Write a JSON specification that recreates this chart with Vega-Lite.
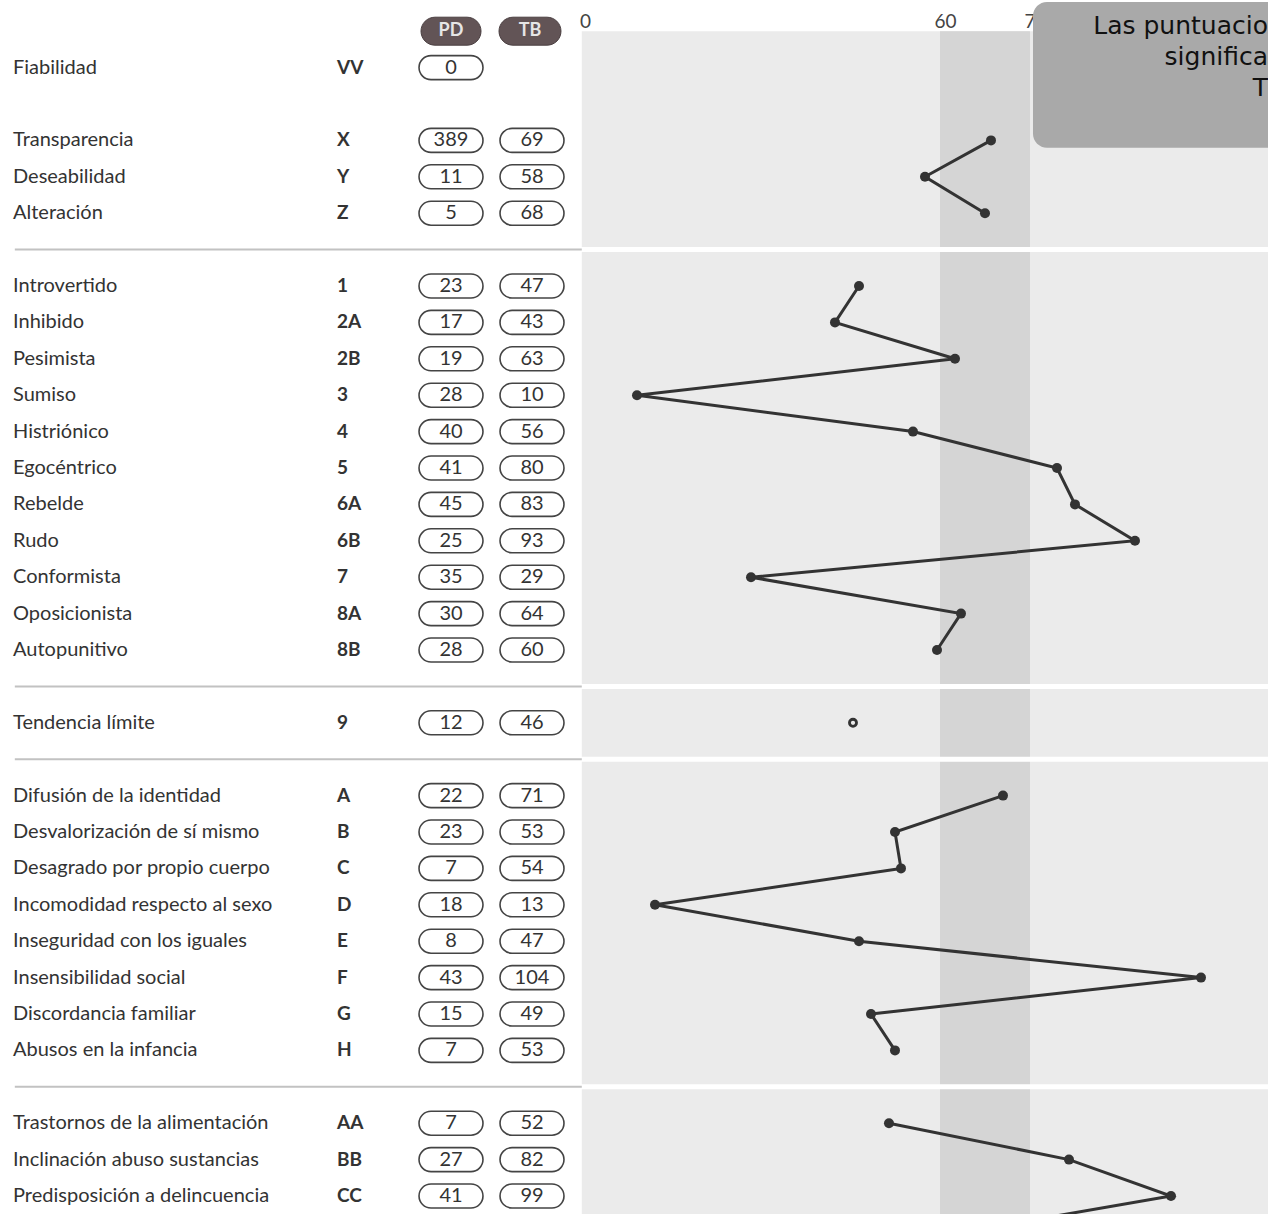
{
  "$schema": "https://vega.github.io/schema/vega-lite/v6.json",
  "width": 1268,
  "height": 1214,
  "autosize": {"type": "fit", "contains": "padding"},
  "padding": 0,
  "background": "white",
  "config": {"view": {"stroke": null}},
  "datasets": {
    "escalas": [
      {"codigo": "VV", "nombre": "Fiabilidad", "PD": 0, "TB": null, "seccion": "validez"},
      {"codigo": "X", "nombre": "Transparencia", "PD": 389, "TB": 69, "seccion": "validez"},
      {"codigo": "Y", "nombre": "Deseabilidad", "PD": 11, "TB": 58, "seccion": "validez"},
      {"codigo": "Z", "nombre": "Alteración", "PD": 5, "TB": 68, "seccion": "validez"},
      {"codigo": "1", "nombre": "Introvertido", "PD": 23, "TB": 47, "seccion": "personalidad"},
      {"codigo": "2A", "nombre": "Inhibido", "PD": 17, "TB": 43, "seccion": "personalidad"},
      {"codigo": "2B", "nombre": "Pesimista", "PD": 19, "TB": 63, "seccion": "personalidad"},
      {"codigo": "3", "nombre": "Sumiso", "PD": 28, "TB": 10, "seccion": "personalidad"},
      {"codigo": "4", "nombre": "Histriónico", "PD": 40, "TB": 56, "seccion": "personalidad"},
      {"codigo": "5", "nombre": "Egocéntrico", "PD": 41, "TB": 80, "seccion": "personalidad"},
      {"codigo": "6A", "nombre": "Rebelde", "PD": 45, "TB": 83, "seccion": "personalidad"},
      {"codigo": "6B", "nombre": "Rudo", "PD": 25, "TB": 93, "seccion": "personalidad"},
      {"codigo": "7", "nombre": "Conformista", "PD": 35, "TB": 29, "seccion": "personalidad"},
      {"codigo": "8A", "nombre": "Oposicionista", "PD": 30, "TB": 64, "seccion": "personalidad"},
      {"codigo": "8B", "nombre": "Autopunitivo", "PD": 28, "TB": 60, "seccion": "personalidad"},
      {"codigo": "9", "nombre": "Tendencia límite", "PD": 12, "TB": 46, "seccion": "limite"},
      {"codigo": "A", "nombre": "Difusión de la identidad", "PD": 22, "TB": 71, "seccion": "expresadas"},
      {"codigo": "B", "nombre": "Desvalorización de sí mismo", "PD": 23, "TB": 53, "seccion": "expresadas"},
      {"codigo": "C", "nombre": "Desagrado por propio cuerpo", "PD": 7, "TB": 54, "seccion": "expresadas"},
      {"codigo": "D", "nombre": "Incomodidad respecto al sexo", "PD": 18, "TB": 13, "seccion": "expresadas"},
      {"codigo": "E", "nombre": "Inseguridad con los iguales", "PD": 8, "TB": 47, "seccion": "expresadas"},
      {"codigo": "F", "nombre": "Insensibilidad social", "PD": 43, "TB": 104, "seccion": "expresadas"},
      {"codigo": "G", "nombre": "Discordancia familiar", "PD": 15, "TB": 49, "seccion": "expresadas"},
      {"codigo": "H", "nombre": "Abusos en la infancia", "PD": 7, "TB": 53, "seccion": "expresadas"},
      {"codigo": "AA", "nombre": "Trastornos de la alimentación", "PD": 7, "TB": 52, "seccion": "sindromes"},
      {"codigo": "BB", "nombre": "Inclinación abuso sustancias", "PD": 27, "TB": 82, "seccion": "sindromes"},
      {"codigo": "CC", "nombre": "Predisposición a delincuencia", "PD": 41, "TB": 99, "seccion": "sindromes"},
      {"codigo": "DD", "nombre": "Propensión a la impulsividad", "PD": null, "TB": 64, "seccion": "sindromes"}
    ],
    "secciones": [
      {"desde": "cab", "hasta": "_b"},
      {"desde": "_b", "hasta": "_c"},
      {"desde": "_c", "hasta": "_d"},
      {"desde": "_d", "hasta": "_e"},
      {"desde": "_e", "hasta": "DD"}
    ],
    "separadores": [
      {"fila": "_b"}, {"fila": "_c"}, {"fila": "_d"}, {"fila": "_e"}
    ],
    "nota": [
      {"texto": ["Las puntuacio", "significa", "T"]}
    ]
  },
  "layer": [
    {
      "data": {"name": "secciones"},
      "mark": {"type": "rect", "color": "#ebebeb", "clip": true},
      "encoding": {
        "x": {
          "datum": 0.8, "type": "quantitative",
          "scale": {"domain": [-96.17, 115.17], "nice": false, "zero": false},
          "axis": {
            "orient": "top", "values": [0, 60, 75], "offset": -31,
            "domain": false, "ticks": false, "tickSize": 0, "grid": false,
            "labelPadding": 0, "labelFont": "Lato", "labelFontSize": 19,
            "labelColor": "#444444", "labelOffset": 8, "title": null,
            "labelFlush": false, "labelOverlap": false
          }
        },
        "x2": {"datum": 125},
        "y": {
          "field": "desde", "type": "nominal",
          "scale": {
            "type": "band",
            "domain": ["cab","VV","_a","X","Y","Z","_b","1","2A","2B","3","4","5","6A","6B","7","8A","8B","_c","9","_d","A","B","C","D","E","F","G","H","_e","AA","BB","CC","DD"],
            "range": [13, 1250.6],
            "paddingInner": 0, "paddingOuter": 0
          },
          "axis": null
        },
        "y2": {"field": "hasta"}
      }
    },
    {
      "data": {"name": "secciones"},
      "mark": {"type": "rect", "color": "#d5d5d5", "clip": true},
      "encoding": {
        "x": {"datum": 60.5, "type": "quantitative"},
        "x2": {"datum": 75.5},
        "y": {"field": "desde", "type": "nominal", "axis": null},
        "y2": {"field": "hasta"}
      }
    },
    {
      "data": {"name": "separadores"},
      "mark": {"type": "rule", "color": "white", "strokeWidth": 5, "clip": true},
      "encoding": {
        "x": {"datum": 0, "type": "quantitative"},
        "x2": {"datum": 125},
        "y": {"field": "fila", "type": "nominal", "axis": null}
      }
    },
    {
      "data": {"name": "separadores"},
      "mark": {"type": "rule", "color": "#c2c2c2", "strokeWidth": 2},
      "encoding": {
        "x": {"datum": -93.7, "type": "quantitative"},
        "x2": {"datum": 0.8},
        "y": {"field": "fila", "type": "nominal", "axis": null}
      }
    },
    {
      "data": {"name": "escalas"},
      "transform": [{"filter": "isValid(datum.TB)"}],
      "mark": {"type": "line", "color": "#333333", "strokeWidth": 3, "clip": true},
      "encoding": {
        "x": {"field": "TB", "type": "quantitative"},
        "y": {"field": "codigo", "type": "nominal", "axis": null},
        "detail": {"field": "seccion"},
        "order": {"field": "codigo", "type": "ordinal"}
      }
    },
    {
      "data": {"name": "escalas"},
      "transform": [{"filter": "isValid(datum.TB)"}],
      "mark": {"type": "point", "filled": true, "stroke": "#333333", "clip": true, "opacity": 1},
      "encoding": {
        "x": {"field": "TB", "type": "quantitative"},
        "y": {"field": "codigo", "type": "nominal", "axis": null},
        "fill": {"condition": {"test": "datum.codigo === '9'", "value": "#ebebeb"}, "value": "#333333"},
        "size": {"condition": {"test": "datum.codigo === '9'", "value": 50}, "value": 100},
        "strokeWidth": {"condition": {"test": "datum.codigo === '9'", "value": 2.8}, "value": 0}
      }
    },
    {
      "data": {"name": "escalas"},
      "transform": [{"filter": "isValid(datum.PD)"}],
      "mark": {"type": "text", "align": "left", "baseline": "middle", "font": "Lato", "fontSize": 20, "color": "#333333"},
      "encoding": {
        "x": {"datum": -94, "type": "quantitative"},
        "y": {"field": "codigo", "type": "nominal", "axis": null},
        "text": {"field": "nombre"}
      }
    },
    {
      "data": {"name": "escalas"},
      "transform": [{"filter": "isValid(datum.PD)"}],
      "mark": {"type": "text", "align": "left", "baseline": "middle", "font": "Lato", "fontSize": 19, "fontWeight": "bold", "color": "#333333"},
      "encoding": {
        "x": {"datum": -40, "type": "quantitative"},
        "y": {"field": "codigo", "type": "nominal", "axis": null},
        "text": {"field": "codigo"}
      }
    },
    {
      "data": {"name": "escalas"},
      "transform": [{"filter": "isValid(datum.PD)"}],
      "mark": {"type": "rect", "height": 24, "fill": "white", "stroke": "#444444", "strokeWidth": 1.6, "cornerRadius": 12},
      "encoding": {
        "x": {"datum": -26.33, "type": "quantitative"},
        "x2": {"datum": -15.67},
        "y": {"field": "codigo", "type": "nominal", "axis": null}
      }
    },
    {
      "data": {"name": "escalas"},
      "transform": [{"filter": "isValid(datum.PD)"}],
      "mark": {"type": "text", "align": "center", "baseline": "middle", "font": "Lato", "fontSize": 20, "color": "#333333"},
      "encoding": {
        "x": {"datum": -21, "type": "quantitative"},
        "y": {"field": "codigo", "type": "nominal", "axis": null},
        "text": {"field": "PD"}
      }
    },
    {
      "data": {"name": "escalas"},
      "transform": [{"filter": "isValid(datum.PD) && isValid(datum.TB)"}],
      "mark": {"type": "rect", "height": 24, "fill": "white", "stroke": "#444444", "strokeWidth": 1.6, "cornerRadius": 12},
      "encoding": {
        "x": {"datum": -12.83, "type": "quantitative"},
        "x2": {"datum": -2.17},
        "y": {"field": "codigo", "type": "nominal", "axis": null}
      }
    },
    {
      "data": {"name": "escalas"},
      "transform": [{"filter": "isValid(datum.PD) && isValid(datum.TB)"}],
      "mark": {"type": "text", "align": "center", "baseline": "middle", "font": "Lato", "fontSize": 20, "color": "#333333"},
      "encoding": {
        "x": {"datum": -7.5, "type": "quantitative"},
        "y": {"field": "codigo", "type": "nominal", "axis": null},
        "text": {"field": "TB"}
      }
    },
    {
      "data": {"values": [{"columna": "PD"}]},
      "mark": {"type": "rect", "height": 28, "fill": "#625456", "stroke": "#4a3f41", "strokeWidth": 1, "cornerRadius": 14},
      "encoding": {
        "x": {"datum": -26.0, "type": "quantitative"},
        "x2": {"datum": -16.0},
        "y": {"datum": "cab", "type": "nominal", "axis": null}
      }
    },
    {
      "data": {"values": [{"columna": "PD"}]},
      "mark": {"type": "text", "align": "center", "baseline": "middle", "font": "Lato", "fontSize": 18, "fontWeight": "bold", "color": "#e6e6e6"},
      "encoding": {
        "x": {"datum": -21, "type": "quantitative"},
        "y": {"datum": "cab", "type": "nominal", "axis": null},
        "text": {"field": "columna"}
      }
    },
    {
      "data": {"values": [{"columna": "TB"}]},
      "mark": {"type": "rect", "height": 28, "fill": "#625456", "stroke": "#4a3f41", "strokeWidth": 1, "cornerRadius": 14},
      "encoding": {
        "x": {"datum": -13.0, "type": "quantitative"},
        "x2": {"datum": -2.67},
        "y": {"datum": "cab", "type": "nominal", "axis": null}
      }
    },
    {
      "data": {"values": [{"columna": "TB"}]},
      "mark": {"type": "text", "align": "center", "baseline": "middle", "font": "Lato", "fontSize": 18, "fontWeight": "bold", "color": "#e6e6e6"},
      "encoding": {
        "x": {"datum": -7.83, "type": "quantitative"},
        "y": {"datum": "cab", "type": "nominal", "axis": null},
        "text": {"field": "columna"}
      }
    },
    {
      "data": {"name": "nota"},
      "mark": {"type": "rect", "fill": "#a9a9a9", "cornerRadius": 14, "clip": true},
      "encoding": {
        "x": {"datum": 76, "type": "quantitative"},
        "x2": {"datum": 130},
        "y": {"datum": "cab", "type": "nominal", "bandPosition": -0.3, "axis": null},
        "y2": {"datum": "X", "bandPosition": 0.7}
      }
    },
    {
      "data": {"name": "nota"},
      "mark": {"type": "text", "align": "right", "baseline": "middle", "font": "DejaVu Sans", "fontSize": 25, "lineHeight": 31, "color": "#111111", "dy": -5},
      "encoding": {
        "x": {"datum": 115.17, "type": "quantitative"},
        "y": {"datum": "cab", "type": "nominal", "axis": null},
        "text": {"field": "texto"}
      }
    }
  ]
}
